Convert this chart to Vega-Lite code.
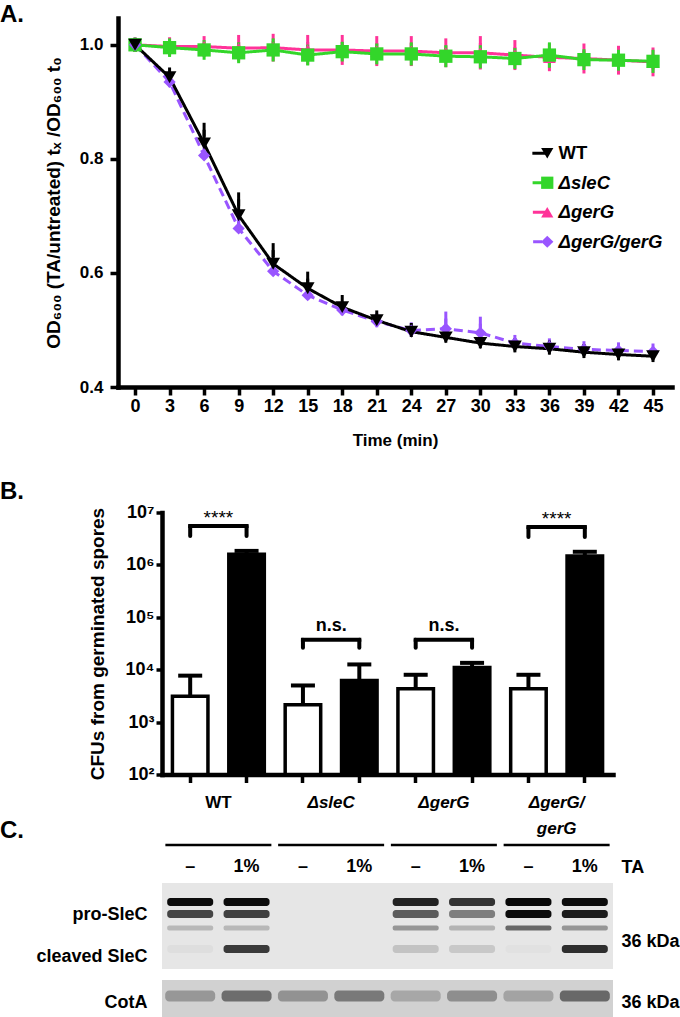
{
  "$schema": "https://vega.github.io/schema/vega-lite/v6.json",
  "padding": {"top": 3, "left": 0, "right": 0, "bottom": 0},
  "title": {"text": "A.", "anchor": "start", "frame": "group", "fontSize": 24, "fontWeight": "bold", "offset": -9, "dx": -162, "baseline": "top"},
  "spacing": -0.5,
  "config": {
    "font": "Liberation Sans",
    "view": {"stroke": null},
    "axis": {"domainColor": "#000000", "domainWidth": 4.5, "domainCap": "square", "tickColor": "#000000", "tickWidth": 3.5, "labelColor": "#000000", "labelFontWeight": "bold", "titleColor": "#000000", "titleFontWeight": "bold", "grid": false},
    "title": {"color": "#000000"}
  },
  "datasets": {
    "od": [
      {"strain": "ΔgerG", "time": 0, "od": 1.0, "lo": 1.0, "hi": 1.0},
      {"strain": "ΔgerG", "time": 3, "od": 0.997, "lo": 0.993, "hi": 1.001},
      {"strain": "ΔgerG", "time": 6, "od": 0.997, "lo": 0.991, "hi": 1.003},
      {"strain": "ΔgerG", "time": 9, "od": 0.994, "lo": 0.983, "hi": 1.005},
      {"strain": "ΔgerG", "time": 12, "od": 0.995, "lo": 0.983, "hi": 1.007},
      {"strain": "ΔgerG", "time": 15, "od": 0.991, "lo": 0.977, "hi": 1.005},
      {"strain": "ΔgerG", "time": 18, "od": 0.991, "lo": 0.977, "hi": 1.005},
      {"strain": "ΔgerG", "time": 21, "od": 0.989, "lo": 0.975, "hi": 1.003},
      {"strain": "ΔgerG", "time": 24, "od": 0.989, "lo": 0.975, "hi": 1.003},
      {"strain": "ΔgerG", "time": 27, "od": 0.986, "lo": 0.973, "hi": 0.999},
      {"strain": "ΔgerG", "time": 30, "od": 0.986, "lo": 0.969, "hi": 1.003},
      {"strain": "ΔgerG", "time": 33, "od": 0.982, "lo": 0.968, "hi": 0.996},
      {"strain": "ΔgerG", "time": 36, "od": 0.978, "lo": 0.966, "hi": 0.99},
      {"strain": "ΔgerG", "time": 39, "od": 0.976, "lo": 0.962, "hi": 0.99},
      {"strain": "ΔgerG", "time": 42, "od": 0.973, "lo": 0.96, "hi": 0.986},
      {"strain": "ΔgerG", "time": 45, "od": 0.97, "lo": 0.957, "hi": 0.983},
      {"strain": "ΔsleC", "time": 0, "od": 1.0, "lo": 1.0, "hi": 1.0},
      {"strain": "ΔsleC", "time": 3, "od": 0.995, "lo": 0.991, "hi": 0.999},
      {"strain": "ΔsleC", "time": 6, "od": 0.991, "lo": 0.986, "hi": 0.996},
      {"strain": "ΔsleC", "time": 9, "od": 0.986, "lo": 0.98, "hi": 0.992},
      {"strain": "ΔsleC", "time": 12, "od": 0.991, "lo": 0.983, "hi": 0.999},
      {"strain": "ΔsleC", "time": 15, "od": 0.982, "lo": 0.976, "hi": 0.988},
      {"strain": "ΔsleC", "time": 18, "od": 0.988, "lo": 0.983, "hi": 0.993},
      {"strain": "ΔsleC", "time": 21, "od": 0.984, "lo": 0.978, "hi": 0.99},
      {"strain": "ΔsleC", "time": 24, "od": 0.984, "lo": 0.976, "hi": 0.992},
      {"strain": "ΔsleC", "time": 27, "od": 0.98, "lo": 0.973, "hi": 0.987},
      {"strain": "ΔsleC", "time": 30, "od": 0.979, "lo": 0.971, "hi": 0.987},
      {"strain": "ΔsleC", "time": 33, "od": 0.976, "lo": 0.97, "hi": 0.982},
      {"strain": "ΔsleC", "time": 36, "od": 0.982, "lo": 0.972, "hi": 0.992},
      {"strain": "ΔsleC", "time": 39, "od": 0.974, "lo": 0.968, "hi": 0.98},
      {"strain": "ΔsleC", "time": 42, "od": 0.973, "lo": 0.967, "hi": 0.979},
      {"strain": "ΔsleC", "time": 45, "od": 0.971, "lo": 0.963, "hi": 0.979},
      {"strain": "ΔgerG/gerG", "time": 0, "od": 1.0, "lo": 1.0, "hi": 1.0},
      {"strain": "ΔgerG/gerG", "time": 3, "od": 0.935, "lo": 0.935, "hi": 0.938},
      {"strain": "ΔgerG/gerG", "time": 6, "od": 0.806, "lo": 0.806, "hi": 0.812},
      {"strain": "ΔgerG/gerG", "time": 9, "od": 0.678, "lo": 0.678, "hi": 0.69},
      {"strain": "ΔgerG/gerG", "time": 12, "od": 0.603, "lo": 0.603, "hi": 0.61},
      {"strain": "ΔgerG/gerG", "time": 15, "od": 0.561, "lo": 0.561, "hi": 0.566},
      {"strain": "ΔgerG/gerG", "time": 18, "od": 0.535, "lo": 0.535, "hi": 0.538},
      {"strain": "ΔgerG/gerG", "time": 21, "od": 0.515, "lo": 0.515, "hi": 0.517},
      {"strain": "ΔgerG/gerG", "time": 24, "od": 0.499, "lo": 0.499, "hi": 0.501},
      {"strain": "ΔgerG/gerG", "time": 27, "od": 0.502, "lo": 0.502, "hi": 0.52},
      {"strain": "ΔgerG/gerG", "time": 30, "od": 0.495, "lo": 0.495, "hi": 0.511},
      {"strain": "ΔgerG/gerG", "time": 33, "od": 0.477, "lo": 0.477, "hi": 0.479},
      {"strain": "ΔgerG/gerG", "time": 36, "od": 0.471, "lo": 0.471, "hi": 0.473},
      {"strain": "ΔgerG/gerG", "time": 39, "od": 0.466, "lo": 0.466, "hi": 0.468},
      {"strain": "ΔgerG/gerG", "time": 42, "od": 0.464, "lo": 0.464, "hi": 0.466},
      {"strain": "ΔgerG/gerG", "time": 45, "od": 0.462, "lo": 0.462, "hi": 0.464},
      {"strain": "WT", "time": 0, "od": 1.0, "lo": 1.0, "hi": 1.0},
      {"strain": "WT", "time": 3, "od": 0.943, "lo": 0.943, "hi": 0.948},
      {"strain": "WT", "time": 6, "od": 0.827, "lo": 0.827, "hi": 0.851},
      {"strain": "WT", "time": 9, "od": 0.701, "lo": 0.701, "hi": 0.729},
      {"strain": "WT", "time": 12, "od": 0.616, "lo": 0.616, "hi": 0.64},
      {"strain": "WT", "time": 15, "od": 0.573, "lo": 0.573, "hi": 0.59},
      {"strain": "WT", "time": 18, "od": 0.54, "lo": 0.54, "hi": 0.549},
      {"strain": "WT", "time": 21, "od": 0.517, "lo": 0.517, "hi": 0.522},
      {"strain": "WT", "time": 24, "od": 0.497, "lo": 0.497, "hi": 0.5},
      {"strain": "WT", "time": 27, "od": 0.487, "lo": 0.487, "hi": 0.49},
      {"strain": "WT", "time": 30, "od": 0.477, "lo": 0.477, "hi": 0.48},
      {"strain": "WT", "time": 33, "od": 0.471, "lo": 0.471, "hi": 0.473},
      {"strain": "WT", "time": 36, "od": 0.467, "lo": 0.467, "hi": 0.469},
      {"strain": "WT", "time": 39, "od": 0.461, "lo": 0.461, "hi": 0.463},
      {"strain": "WT", "time": 42, "od": 0.457, "lo": 0.457, "hi": 0.459},
      {"strain": "WT", "time": 45, "od": 0.454, "lo": 0.454, "hi": 0.456}
    ],
    "cfu": [
      {"bar": "WT –", "strain": "WT", "trt": "–", "cfu": 3100, "hi": 7700},
      {"bar": "WT 1%", "strain": "WT", "trt": "1%", "cfu": 1600000, "hi": 1850000},
      {"bar": "ΔsleC –", "strain": "ΔsleC", "trt": "–", "cfu": 2150, "hi": 5000},
      {"bar": "ΔsleC 1%", "strain": "ΔsleC", "trt": "1%", "cfu": 6200, "hi": 12600},
      {"bar": "ΔgerG –", "strain": "ΔgerG", "trt": "–", "cfu": 4350, "hi": 8000},
      {"bar": "ΔgerG 1%", "strain": "ΔgerG", "trt": "1%", "cfu": 11000, "hi": 13500},
      {"bar": "ΔgerG/gerG –", "strain": "ΔgerG/gerG", "trt": "–", "cfu": 4350, "hi": 8000},
      {"bar": "ΔgerG/gerG 1%", "strain": "ΔgerG/gerG", "trt": "1%", "cfu": 1480000, "hi": 1780000}
    ],
    "brackets": [
      {"left": "WT –", "right": "WT 1%", "y": 5500000, "leg": 3550000, "label": "****"},
      {"left": "ΔsleC –", "right": "ΔsleC 1%", "y": 37300, "leg": 26300, "label": "n.s."},
      {"left": "ΔgerG –", "right": "ΔgerG 1%", "y": 37300, "leg": 26300, "label": "n.s."},
      {"left": "ΔgerG/gerG –", "right": "ΔgerG/gerG 1%", "y": 5300000, "leg": 3400000, "label": "****"}
    ],
    "strains": [
      {"group": "WT"}, {"group": "ΔsleC"}, {"group": "ΔgerG"}, {"group": "ΔgerG/gerG"}
    ],
    "lanes": [
      {"group": "WT", "trt": "–"}, {"group": "WT", "trt": "1%"},
      {"group": "ΔsleC", "trt": "–"}, {"group": "ΔsleC", "trt": "1%"},
      {"group": "ΔgerG", "trt": "–"}, {"group": "ΔgerG", "trt": "1%"},
      {"group": "ΔgerG/gerG", "trt": "–"}, {"group": "ΔgerG/gerG", "trt": "1%"}
    ],
    "blots": [
      {"blot": "SleC", "top": 3.8, "bottom": 12.4},
      {"blot": "CotA", "top": 13.5, "bottom": 17.3}
    ],
    "bands": [
      {"group": "WT", "trt": "–", "band": "pro1", "mig": 5.7, "intensity": 0.95},
      {"group": "WT", "trt": "–", "band": "pro2", "mig": 6.9, "intensity": 0.7},
      {"group": "WT", "trt": "–", "band": "pro3", "mig": 8.3, "intensity": 0.2},
      {"group": "WT", "trt": "–", "band": "cleaved", "mig": 10.4, "intensity": 0.03},
      {"group": "WT", "trt": "–", "band": "CotA", "mig": 15.1, "intensity": 0.28},
      {"group": "WT", "trt": "1%", "band": "pro1", "mig": 5.7, "intensity": 0.95},
      {"group": "WT", "trt": "1%", "band": "pro2", "mig": 6.9, "intensity": 0.72},
      {"group": "WT", "trt": "1%", "band": "pro3", "mig": 8.3, "intensity": 0.2},
      {"group": "WT", "trt": "1%", "band": "cleaved", "mig": 10.4, "intensity": 0.75},
      {"group": "WT", "trt": "1%", "band": "CotA", "mig": 15.1, "intensity": 0.48},
      {"group": "ΔsleC", "trt": "–", "band": "CotA", "mig": 15.1, "intensity": 0.3},
      {"group": "ΔsleC", "trt": "1%", "band": "CotA", "mig": 15.1, "intensity": 0.42},
      {"group": "ΔgerG", "trt": "–", "band": "pro1", "mig": 5.7, "intensity": 0.85},
      {"group": "ΔgerG", "trt": "–", "band": "pro2", "mig": 6.9, "intensity": 0.6},
      {"group": "ΔgerG", "trt": "–", "band": "pro3", "mig": 8.3, "intensity": 0.35},
      {"group": "ΔgerG", "trt": "–", "band": "cleaved", "mig": 10.4, "intensity": 0.15},
      {"group": "ΔgerG", "trt": "–", "band": "CotA", "mig": 15.1, "intensity": 0.2},
      {"group": "ΔgerG", "trt": "1%", "band": "pro1", "mig": 5.7, "intensity": 0.78},
      {"group": "ΔgerG", "trt": "1%", "band": "pro2", "mig": 6.9, "intensity": 0.45},
      {"group": "ΔgerG", "trt": "1%", "band": "pro3", "mig": 8.3, "intensity": 0.22},
      {"group": "ΔgerG", "trt": "1%", "band": "cleaved", "mig": 10.4, "intensity": 0.13},
      {"group": "ΔgerG", "trt": "1%", "band": "CotA", "mig": 15.1, "intensity": 0.32},
      {"group": "ΔgerG/gerG", "trt": "–", "band": "pro1", "mig": 5.7, "intensity": 0.97},
      {"group": "ΔgerG/gerG", "trt": "–", "band": "pro2", "mig": 6.9, "intensity": 0.95},
      {"group": "ΔgerG/gerG", "trt": "–", "band": "pro3", "mig": 8.3, "intensity": 0.55},
      {"group": "ΔgerG/gerG", "trt": "–", "band": "cleaved", "mig": 10.4, "intensity": 0.02},
      {"group": "ΔgerG/gerG", "trt": "–", "band": "CotA", "mig": 15.1, "intensity": 0.22},
      {"group": "ΔgerG/gerG", "trt": "1%", "band": "pro1", "mig": 5.7, "intensity": 0.95},
      {"group": "ΔgerG/gerG", "trt": "1%", "band": "pro2", "mig": 6.9, "intensity": 0.88},
      {"group": "ΔgerG/gerG", "trt": "1%", "band": "pro3", "mig": 8.3, "intensity": 0.35},
      {"group": "ΔgerG/gerG", "trt": "1%", "band": "cleaved", "mig": 10.4, "intensity": 0.8},
      {"group": "ΔgerG/gerG", "trt": "1%", "band": "CotA", "mig": 15.1, "intensity": 0.5}
    ]
  },
  "vconcat": [
    {
      "width": 510,
      "height": 369,
      "title": {"text": "B.", "orient": "bottom", "anchor": "start", "frame": "group", "dx": -162, "offset": 32, "fontSize": 24, "fontWeight": "bold", "baseline": "top"},
      "data": {"name": "od"},
      "encoding": {
        "x": {"field": "time", "type": "quantitative",
          "scale": {"domain": [-1.48, 46.65], "range": [-44, 510], "nice": false, "zero": false},
          "axis": {"values": [0, 3, 6, 9, 12, 15, 18, 21, 24, 27, 30, 33, 36, 39, 42, 45], "tickSize": 8, "labelFontSize": 18, "labelPadding": 2, "labelFlush": false, "title": "Time (min)", "titleFontSize": 17, "titlePadding": 17}}
      },
      "layer": [
        {
          "mark": {"type": "rule", "strokeWidth": 3},
          "encoding": {
            "y": {"field": "lo", "type": "quantitative", "scale": {"domain": [0.4, 1.047], "nice": false, "zero": false}},
            "y2": {"field": "hi"},
            "color": {"field": "strain", "type": "nominal",
              "scale": {"domain": ["WT", "ΔsleC", "ΔgerG", "ΔgerG/gerG"], "range": ["#000000", "#33d62a", "#ff3399", "#9955ff"]},
              "legend": {"orient": "none", "legendX": 368, "legendY": 126, "title": null, "padding": 0, "symbolType": "stroke", "symbolSize": 784, "symbolStrokeWidth": 3,
                "labelFontSize": 18.5, "labelFontWeight": "bold", "labelColor": "#000000", "labelOffset": 10, "rowPadding": 10.5,
                "encode": {"labels": {"update": {"fontStyle": {"signal": "datum.value === 'WT' ? 'normal' : 'italic'"}}}}}}
          }
        },
        {
          "mark": {"type": "tick", "size": 14, "thickness": 3, "opacity": 1},
          "encoding": {
            "y": {"field": "hi", "type": "quantitative"},
            "color": {"field": "strain", "type": "nominal"}
          }
        },
        {
          "transform": [{"filter": "datum.strain === 'ΔgerG' || datum.strain === 'ΔsleC'"}],
          "mark": {"type": "tick", "size": 14, "thickness": 3, "opacity": 1},
          "encoding": {
            "y": {"field": "lo", "type": "quantitative"},
            "color": {"field": "strain", "type": "nominal"}
          }
        },
        {
          "mark": {"type": "line", "strokeWidth": 3},
          "encoding": {
            "y": {"field": "od", "type": "quantitative",
              "axis": {"values": [0.4, 0.6, 0.8, 1.0], "format": ".1f", "offset": 44, "tickSize": 8, "labelFontSize": 17, "labelPadding": 7, "title": "OD₆₀₀ (TA/untreated) tₓ /OD₆₀₀ t₀", "titleFontSize": 19, "titlePadding": 16}},
            "color": {"field": "strain", "type": "nominal"},
            "strokeDash": {"field": "strain", "type": "nominal", "scale": {"domain": ["WT", "ΔsleC", "ΔgerG", "ΔgerG/gerG"], "range": [[1, 0], [1, 0], [1, 0], [9, 5]]}, "legend": null}
          }
        },
        {
          "mark": {"type": "point", "filled": true, "opacity": 1, "strokeWidth": 0},
          "encoding": {
            "y": {"field": "od", "type": "quantitative"},
            "fill": {"field": "strain", "type": "nominal",
              "scale": {"domain": ["WT", "ΔsleC", "ΔgerG", "ΔgerG/gerG", "none"], "range": ["#000000", "#33d62a", "#ff3399", "#9955ff", "#ffffff"]},
              "legend": {"orient": "none", "legendX": 376, "legendY": 126, "title": null, "padding": 0, "values": ["WT", "ΔsleC", "ΔgerG", "ΔgerG/gerG"], "symbolSize": 150, "symbolStrokeWidth": 0,
                "labelFontSize": 18.5, "labelExpr": "''", "labelOffset": 13, "rowPadding": 10.5}},
            "shape": {"field": "strain", "type": "nominal", "scale": {"domain": ["WT", "ΔsleC", "ΔgerG", "ΔgerG/gerG", "none"], "range": ["triangle-down", "square", "triangle-up", "diamond", "circle"]}},
            "size": {"field": "strain", "type": "nominal", "scale": {"domain": ["WT", "ΔsleC", "ΔgerG", "ΔgerG/gerG"], "range": [190, 150, 150, 170]}, "legend": null}
          }
        }
      ]
    },
    {
      "width": 451,
      "height": 262,
      "title": {"text": "C.", "orient": "bottom", "anchor": "start", "frame": "group", "dx": -162, "offset": -17.5, "fontSize": 24, "fontWeight": "bold", "baseline": "top"},
      "layer": [
        {
          "data": {"name": "cfu"},
          "transform": [{"filter": "datum.trt === '–'"}],
          "mark": {"type": "bar", "stroke": "#000000", "strokeWidth": 3.5, "fill": "#ffffff"},
          "encoding": {
            "x": {"field": "bar", "type": "nominal",
              "scale": {"domain": ["WT –", "WT 1%", "ΔsleC –", "ΔsleC 1%", "ΔgerG –", "ΔgerG 1%", "ΔgerG/gerG –", "ΔgerG/gerG 1%"], "paddingInner": 0.37, "paddingOuter": 0.185},
              "axis": {"title": null, "labelAngle": 0, "tickSize": 8, "labelFontSize": 17, "labelPadding": 12, "labelLineHeight": 26, "labelOffset": 28.2,
                "labelExpr": "datum.value === 'WT –' ? 'WT' : datum.value === 'ΔsleC –' ? 'ΔsleC' : datum.value === 'ΔgerG –' ? 'ΔgerG' : datum.value === 'ΔgerG/gerG –' ? ['ΔgerG/', 'gerG'] : ''",
                "labelFontStyle": {"condition": {"test": "datum.value === 'WT –'", "value": "normal"}, "value": "italic"}}},
            "y": {"field": "cfu", "type": "quantitative",
              "scale": {"type": "log", "domain": [100, 10000000], "nice": false},
              "axis": {"values": [100, 1000, 10000, 100000, 1000000, 10000000], "tickSize": 6, "labelFontSize": 18, "labelPadding": 2,
                "labelExpr": "'10' + ['⁰','¹','²','³','⁴','⁵','⁶','⁷'][round(log(datum.value)/LN10)]",
                "title": "CFUs from germinated spores", "titleFontSize": 19, "titlePadding": 18}},
            "y2": {"datum": 100}
          }
        },
        {
          "data": {"name": "cfu"},
          "transform": [{"filter": "datum.trt === '1%'"}],
          "mark": {"type": "bar", "stroke": "#000000", "strokeWidth": 3.5, "fill": "#000000"},
          "encoding": {
            "x": {"field": "bar", "type": "nominal"},
            "y": {"field": "cfu", "type": "quantitative"},
            "y2": {"datum": 100}
          }
        },
        {
          "data": {"name": "cfu"},
          "mark": {"type": "rule", "strokeWidth": 4, "color": "#000000"},
          "encoding": {
            "x": {"field": "bar", "type": "nominal"},
            "y": {"field": "cfu", "type": "quantitative"},
            "y2": {"field": "hi"}
          }
        },
        {
          "data": {"name": "cfu"},
          "mark": {"type": "tick", "size": 24, "thickness": 4, "color": "#000000", "opacity": 1},
          "encoding": {
            "x": {"field": "bar", "type": "nominal"},
            "y": {"field": "hi", "type": "quantitative"}
          }
        },
        {
          "data": {"name": "brackets"},
          "mark": {"type": "rule", "strokeWidth": 4, "color": "#000000", "strokeCap": "square"},
          "encoding": {
            "x": {"field": "left", "type": "nominal"},
            "x2": {"field": "right"},
            "y": {"field": "y", "type": "quantitative"}
          }
        },
        {
          "data": {"name": "brackets"},
          "mark": {"type": "rule", "strokeWidth": 4, "color": "#000000", "strokeCap": "round"},
          "encoding": {
            "x": {"field": "left", "type": "nominal"},
            "y": {"field": "y", "type": "quantitative"},
            "y2": {"field": "leg"}
          }
        },
        {
          "data": {"name": "brackets"},
          "mark": {"type": "rule", "strokeWidth": 4, "color": "#000000", "strokeCap": "round"},
          "encoding": {
            "x": {"field": "right", "type": "nominal"},
            "y": {"field": "y", "type": "quantitative"},
            "y2": {"field": "leg"}
          }
        },
        {
          "data": {"name": "brackets"},
          "transform": [{"filter": "datum.label === 'n.s.'"}],
          "mark": {"type": "text", "fontSize": 18, "fontWeight": "bold", "dx": 28.2, "dy": -9, "baseline": "alphabetic", "color": "#000000"},
          "encoding": {
            "x": {"field": "left", "type": "nominal"},
            "y": {"field": "y", "type": "quantitative"},
            "text": {"field": "label"}
          }
        },
        {
          "data": {"name": "brackets"},
          "transform": [{"filter": "datum.label === '****'"}],
          "mark": {"type": "text", "fontSize": 19, "fontWeight": "normal", "dx": 28.2, "dy": -2, "baseline": "alphabetic", "color": "#000000"},
          "encoding": {
            "x": {"field": "left", "type": "nominal"},
            "y": {"field": "y", "type": "quantitative"},
            "text": {"field": "label"}
          }
        }
      ]
    },
    {
      "width": 451,
      "height": 173,
      "resolve": {"axis": {"y": "independent"}},
      "layer": [
        {
          "data": {"name": "blots"},
          "transform": [{"filter": "datum.blot === 'SleC'"}],
          "mark": {"type": "rect", "fill": "#e6e6e6"},
          "encoding": {
            "y": {"field": "top", "type": "quantitative",
              "scale": {"domain": [0, 17.3], "reverse": true, "nice": false, "zero": false},
              "axis": {"orient": "left", "values": [6.9, 11.1, 15.7], "domain": false, "ticks": false, "labelFontSize": 18, "labelPadding": 15, "title": null,
                "labelExpr": "datum.value < 8 ? 'pro-SleC' : datum.value < 13 ? 'cleaved SleC' : 'CotA'"}},
            "y2": {"field": "bottom"}
          }
        },
        {
          "data": {"name": "blots"},
          "transform": [{"filter": "datum.blot === 'CotA'"}],
          "mark": {"type": "rect", "fill": "#d1d1d1"},
          "encoding": {
            "y": {"field": "top", "type": "quantitative", "axis": null},
            "y2": {"field": "bottom"}
          }
        },
        {
          "data": {"name": "bands"},
          "transform": [{"filter": "datum.band === 'pro1' || datum.band === 'pro2' || datum.band === 'cleaved'"}],
          "mark": {"type": "tick", "size": 46, "thickness": 8, "color": "#000000", "cornerRadius": 3},
          "encoding": {
            "x": {"field": "group", "type": "nominal", "scale": {"domain": ["WT", "ΔsleC", "ΔgerG", "ΔgerG/gerG"], "paddingInner": 0, "paddingOuter": 0}, "axis": null},
            "xOffset": {"field": "trt", "type": "nominal", "scale": {"domain": ["–", "1%"], "paddingInner": 0, "paddingOuter": 0}},
            "y": {"field": "mig", "type": "quantitative",
              "axis": {"orient": "right", "values": [2.2, 9.6, 15.7], "domain": false, "ticks": false, "labelFontSize": 18, "labelPadding": 8, "title": null,
                "labelExpr": "datum.value < 4 ? 'TA' : '36 kDa'"}},
            "opacity": {"field": "intensity", "type": "quantitative", "scale": {"domain": [0, 1], "range": [0, 1]}, "legend": null}
          }
        },
        {
          "data": {"name": "bands"},
          "transform": [{"filter": "datum.band === 'pro3'"}],
          "mark": {"type": "tick", "size": 46, "thickness": 5, "color": "#000000", "cornerRadius": 2},
          "encoding": {
            "x": {"field": "group", "type": "nominal", "axis": null},
            "xOffset": {"field": "trt", "type": "nominal"},
            "y": {"field": "mig", "type": "quantitative", "axis": null},
            "opacity": {"field": "intensity", "type": "quantitative", "legend": null}
          }
        },
        {
          "data": {"name": "bands"},
          "transform": [{"filter": "datum.band === 'CotA'"}],
          "mark": {"type": "tick", "size": 50, "thickness": 11, "color": "#000000", "cornerRadius": 4},
          "encoding": {
            "x": {"field": "group", "type": "nominal", "axis": null},
            "xOffset": {"field": "trt", "type": "nominal"},
            "y": {"field": "mig", "type": "quantitative", "axis": null},
            "opacity": {"field": "intensity", "type": "quantitative", "legend": null}
          }
        },
        {
          "data": {"name": "strains"},
          "mark": {"type": "tick", "size": 106, "thickness": 2.5, "color": "#000000", "opacity": 1},
          "encoding": {
            "x": {"field": "group", "type": "nominal", "axis": null},
            "y": {"datum": 0, "type": "quantitative", "axis": null}
          }
        },
        {
          "data": {"name": "lanes"},
          "mark": {"type": "text", "fontSize": 18, "fontWeight": "bold", "color": "#000000", "baseline": "middle"},
          "encoding": {
            "x": {"field": "group", "type": "nominal", "axis": null},
            "xOffset": {"field": "trt", "type": "nominal"},
            "y": {"datum": 2.2, "type": "quantitative", "axis": null},
            "text": {"field": "trt"}
          }
        }
      ]
    }
  ]
}
